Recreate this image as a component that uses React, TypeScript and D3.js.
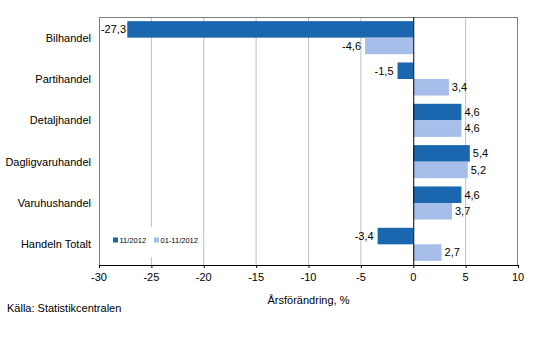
import React from "react";
import * as d3 from "d3";

const categories = ["Bilhandel", "Partihandel", "Detaljhandel", "Dagligvaruhandel", "Varuhushandel", "Handeln Totalt"];
const seriesNames = ["11/2012", "01-11/2012"];
const seriesMonth = [-27.3, -1.5, 4.6, 5.4, 4.6, -3.4];
const seriesYtd = [-4.6, 3.4, 4.6, 5.2, 3.7, 2.7];
const xTicks = [-30, -25, -20, -15, -10, -5, 0, 5, 10];
const colors = ["#1a67b0", "#a7bdea"];

const W = 533, H = 359;
const L = 99, R = 518, T = 17, B = 265;
const FONT = "'Liberation Sans', Arial, sans-serif";

export default function App() {
  const x = d3.scaleLinear().domain([-30, 10]).range([L, R]);
  const y0 = d3.scaleBand<string>().domain(categories).range([T, B]).paddingInner(0.2).paddingOuter(0.1);
  const y1 = d3.scaleBand<string>().domain(seriesNames).range([0, y0.bandwidth()]);
  const data = [seriesMonth, seriesYtd];
  const fmt = (v: number) => d3.format(".1f")(v).replace(".", ",").replace("−", "-");

  return (
    <svg width={W} height={H} style={{ position: "absolute", left: 0, top: 0 }} fontFamily={FONT}>
      <rect width={W} height={H} fill="#fff" />
      {xTicks.filter(t => t !== 0 && t !== -30 && t !== 10).map(t => (
        <line key={t} x1={x(t)} x2={x(t)} y1={T} y2={B} stroke="#c0c0c0" strokeWidth={1} />
      ))}
      <line x1={L} x2={R} y1={T + 0.5} y2={T + 0.5} stroke="#808080" strokeWidth={1} />
      <line x1={R - 0.5} x2={R - 0.5} y1={T} y2={B} stroke="#808080" strokeWidth={1} />
      <line x1={L + 0.5} x2={L + 0.5} y1={T} y2={B} stroke="#808080" strokeWidth={1} />
      {/* legend box */}
      <rect x={108} y={227} width={95} height={30} fill="#fff" />
      {categories.map((c, i) =>
        data.map((s, j) => {
          const v = s[i];
          const yy = (y0(c) as number) + (y1(seriesNames[j]) as number);
          const h = y1.bandwidth();
          const x0 = x(Math.min(0, v));
          const w = Math.abs(x(v) - x(0));
          return <rect key={c + j} x={x0} y={yy} width={w} height={h} fill={colors[j]} />;
        })
      )}
      {categories.map((c, i) =>
        data.map((s, j) => {
          const v = s[i];
          const yy = (y0(c) as number) + (y1(seriesNames[j]) as number) + y1.bandwidth() / 2;
          const pos = v >= 0;
          let tx = pos ? x(v) + 3 : x(v) - 4;
          return (
            <text key={"t" + c + j} x={Math.max(tx, L + 27)} y={yy} dy="0.35em" fontSize={11}
              textAnchor={pos ? "start" : "end"} fill="#000">{fmt(v)}</text>
          );
        })
      )}
      <line x1={x(0) + 0.5} x2={x(0) + 0.5} y1={T} y2={B} stroke="#000" strokeWidth={1} />
      <line x1={L} x2={R} y1={B + 0.5} y2={B + 0.5} stroke="#000" strokeWidth={1} />
      {xTicks.map(t => (
        <g key={"x" + t}>
          <line x1={x(t) + 0.5} x2={x(t) + 0.5} y1={B} y2={B + 3} stroke="#000" />
          <text x={x(t)} y={B + 12} dy="0.35em" fontSize={11} textAnchor="middle">{t < 0 ? "-" + Math.abs(t) : t}</text>
        </g>
      ))}
      {categories.map(c => (
        <text key={"c" + c} x={91} y={(y0(c) as number) + y0.bandwidth() / 2} dy="0.35em" fontSize={11} textAnchor="end">{c}</text>
      ))}
      {/* legend */}
      {seriesNames.map((s, j) => (
        <g key={"l" + s} transform={`translate(${j === 0 ? 113 : 154},240)`}>
          <rect x={0} y={-2.5} width={5} height={5} fill={colors[j]} />
          <text x={6.5} y={0} dy="0.35em" fontSize={7.5}>{s}</text>
        </g>
      ))}
      <text x={(L + R) / 2} y={300} dy="0.35em" fontSize={11} textAnchor="middle">Årsförändring, %</text>
      <text x={7} y={308} dy="0.35em" fontSize={11}>Källa: Statistikcentralen</text>
    </svg>
  );
}
